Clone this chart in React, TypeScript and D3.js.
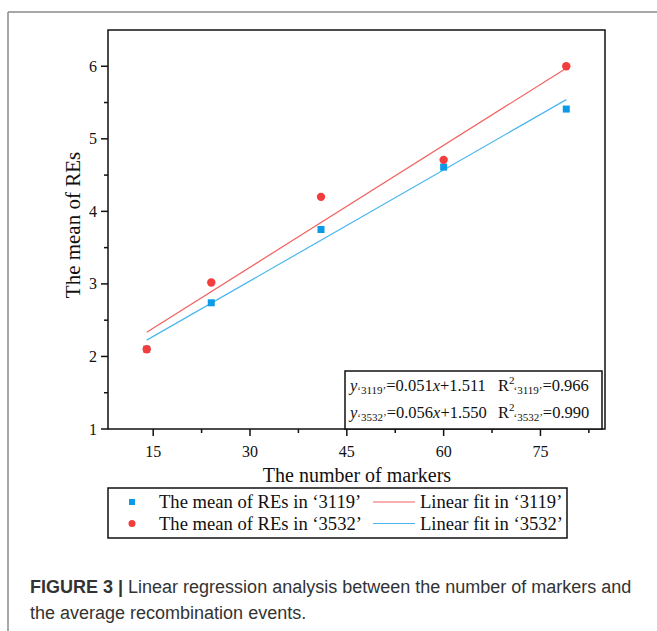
import React from "react";
import * as d3 from "d3";

const markers = [14, 24, 41, 60, 79];
const mean3119 = [2.1, 2.74, 3.75, 4.61, 5.41];
const mean3532 = [2.1, 3.02, 4.2, 4.71, 6.0];
const fit3119 = { slope: 0.051, intercept: 1.511, r2: 0.966 };
const fit3532 = { slope: 0.056, intercept: 1.55, r2: 0.99 };
const xTicks = [15, 30, 45, 60, 75];
const xMinor = [22.5, 37.5, 52.5, 67.5, 82.5];
const yTicks = [1, 2, 3, 4, 5, 6];
const yMinor = [1.5, 2.5, 3.5, 4.5, 5.5];

const SERIF = "'Liberation Serif', 'Times New Roman', serif";
const SANS = "'Liberation Sans', Arial, sans-serif";
const RED = "#f23d3d";
const RED_LINE = "#f26060";
const BLUE = "#0b9be6";
const BLUE_LINE = "#4ab6f0";

export default function App() {
  const x = d3.scaleLinear().domain([8, 85]).range([108, 605]);
  const y = d3.scaleLinear().domain([1, 6.5]).range([429, 30]);
  const fitLine = (f: { slope: number; intercept: number }) =>
    d3.line<number>().x((d) => x(d)).y((d) => y(f.slope * d + f.intercept))([
      markers[0],
      markers[markers.length - 1],
    ]) || "";

  const sq = 7;
  return (
    <svg
      width={657}
      height={631}
      style={{ position: "absolute", left: 0, top: 0, background: "#fff" }}
    >
      {/* outer figure frame */}
      <line x1={8} y1={12} x2={657} y2={12} stroke="#8a8a8a" strokeWidth={1.5} />
      <line x1={8} y1={12} x2={8} y2={631} stroke="#8a8a8a" strokeWidth={1.5} />

      {/* fit lines */}
      <path d={fitLine(fit3532)} stroke={RED_LINE} strokeWidth={1.2} fill="none" />
      <path d={fitLine(fit3119)} stroke={BLUE_LINE} strokeWidth={1.2} fill="none" />

      {/* points */}
      {markers.map((m, i) => (
        <rect
          key={"b" + i}
          x={x(m) - sq / 2}
          y={y(mean3119[i]) - sq / 2}
          width={sq}
          height={sq}
          fill={BLUE}
        />
      ))}
      {markers.map((m, i) => (
        <circle key={"r" + i} cx={x(m)} cy={y(mean3532[i])} r={4.2} fill={RED} />
      ))}

      {/* plot frame */}
      <rect x={108} y={30} width={497} height={399} fill="none" stroke="#111" strokeWidth={1.5} />

      {/* x ticks */}
      {xTicks.map((t) => (
        <g key={"xt" + t}>
          <line x1={x(t)} x2={x(t)} y1={429} y2={436} stroke="#111" strokeWidth={1.5} />
          <text x={x(t)} y={457} textAnchor="middle" fontFamily={SERIF} fontSize={16} fill="#111">
            {t}
          </text>
        </g>
      ))}
      {xMinor.map((t) => (
        <line key={"xm" + t} x1={x(t)} x2={x(t)} y1={429} y2={433} stroke="#111" strokeWidth={1.5} />
      ))}
      {/* y ticks */}
      {yTicks.map((t) => (
        <g key={"yt" + t}>
          <line x1={101} x2={108} y1={y(t)} y2={y(t)} stroke="#111" strokeWidth={1.5} />
          <text x={97} y={y(t) + 5.5} textAnchor="end" fontFamily={SERIF} fontSize={16} fill="#111">
            {t}
          </text>
        </g>
      ))}
      {yMinor.map((t) => (
        <line key={"ym" + t} x1={104} x2={108} y1={y(t)} y2={y(t)} stroke="#111" strokeWidth={1.5} />
      ))}

      {/* axis titles */}
      <text x={357} y={482} textAnchor="middle" fontFamily={SERIF} fontSize={20} fill="#111">
        The number of markers
      </text>
      <text
        transform="translate(80,225) rotate(-90)"
        textAnchor="middle"
        fontFamily={SERIF}
        fontSize={21}
        fill="#111"
      >
        The mean of REs
      </text>

      {/* equation box */}
      <rect x={345} y={371} width={257} height={58} fill="#fff" stroke="#111" strokeWidth={1.5} />
      {[
        { f: fit3119, name: "3119", by: 391 },
        { f: fit3532, name: "3532", by: 418 },
      ].map((e) => (
        <g key={e.name} fontFamily={SERIF} fill="#111">
          <text x={350} y={e.by} fontSize={16.5}>
            <tspan fontStyle="italic">y</tspan>
            <tspan fontSize={11} dy={3}>{"‘" + e.name + "’"}</tspan>
            <tspan dy={-3}>{"=" + e.f.slope.toFixed(3)}</tspan>
            <tspan fontStyle="italic">x</tspan>
            <tspan>{"+" + e.f.intercept.toFixed(3)}</tspan>
          </text>
          <text x={498} y={e.by} fontSize={16.5}>
            <tspan>R</tspan>
            <tspan fontSize={11} dy={-7}>2</tspan>
            <tspan fontSize={11} dx={-1} dy={10}>{"‘" + e.name + "’"}</tspan>
            <tspan dy={-3}>{"=" + e.f.r2.toFixed(3)}</tspan>
          </text>
        </g>
      ))}

      {/* legend */}
      <rect x={108} y={488} width={459} height={50} fill="#fff" stroke="#111" strokeWidth={1.5} />
      <rect x={132 - 3} y={502 - 3} width={6} height={6} fill={BLUE} />
      <circle cx={132} cy={523.5} r={3.5} fill={RED} />
      <text x={159} y={508} fontFamily={SERIF} fontSize={18.6} fill="#111">
        The mean of REs in ‘3119’
      </text>
      <text x={159} y={530} fontFamily={SERIF} fontSize={18.6} fill="#111">
        The mean of REs in ‘3532’
      </text>
      <line x1={373} x2={415} y1={502} y2={502} stroke={RED_LINE} strokeWidth={1.2} />
      <line x1={373} x2={415} y1={523.5} y2={523.5} stroke={BLUE_LINE} strokeWidth={1.2} />
      <text x={420} y={508} fontFamily={SERIF} fontSize={18.6} fill="#111">
        Linear fit in ‘3119’
      </text>
      <text x={420} y={530} fontFamily={SERIF} fontSize={18.6} fill="#111">
        Linear fit in ‘3532’
      </text>

      {/* caption */}
      <text x={30} y={593} fontFamily={SANS} fontSize={18} fill="#333">
        <tspan fontWeight="bold">FIGURE 3 | </tspan>
        <tspan>Linear regression analysis between the number of markers and</tspan>
      </text>
      <text x={30} y={619} fontFamily={SANS} fontSize={18} fill="#333">
        the average recombination events.
      </text>
    </svg>
  );
}
